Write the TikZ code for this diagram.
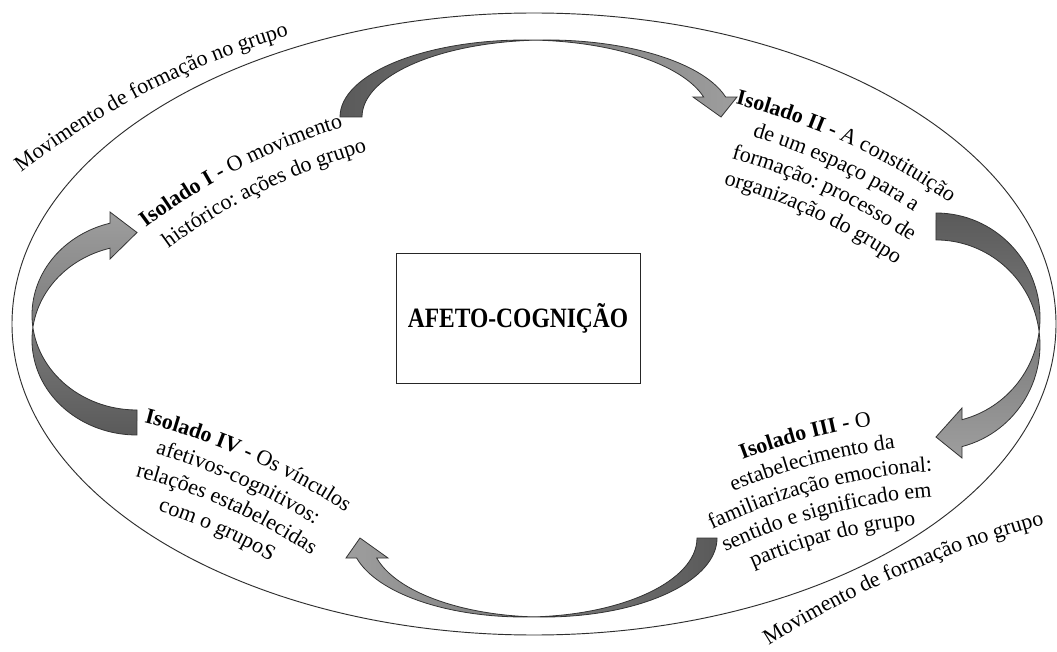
\documentclass[tikz,border=0pt]{standalone}
\usepackage{fontspec}
\usepackage{graphicx}
\setmainfont{Liberation Serif}
\usetikzlibrary{decorations.text}

\definecolor{bandDark}{HTML}{5A5A5A}
\definecolor{bandLight}{HTML}{9E9E9E}
\definecolor{rimGrey}{HTML}{2E2E2E}

\newcommand\bodysize{\fontsize{16.5}{19.5}\selectfont}

% one line of text set along a circular arc (centre x, centre y, radius, middle angle, text)
\newcommand\arcline[5]{%
  \path[decorate,decoration={text along path,text align=center,text={#5}}]
    ({#1+#3*cos(#4-45)},{#2+#3*sin(#4-45)})
    arc[start angle={#4-45}, end angle={#4+45}, radius=#3];%
}

\tikzset{
  rim/.style={draw=rimGrey, line width=0.7pt},
  band/.style={draw=black!80, line width=0.6pt},
  corebox/.style={draw=black!85, line width=0.7pt, inner sep=0pt,
    minimum width=183pt, minimum height=97.5pt,
    font=\fontsize{21}{25}\selectfont\bfseries}
}

\begin{document}
\begin{tikzpicture}[x=0.75pt,y=-0.75pt]
\useasboundingbox (0,0) rectangle (1057,652);
\fill[white] (0,0) rectangle (1057,652);

% outer ring
\draw[rim] (534,324) ellipse [x radius=522, y radius=311];

% curved block arrows (tail -> head)
\path[band, left color=bandDark, right color=bandLight]
  (340,117) arc[start angle=180, end angle=345, x radius=185, y radius=77]
  -- (693,97) -- (721,117) -- (737,97) -- (725.7,97.07)
  arc[start angle=345, end angle=180, x radius=185, y radius=77] -- cycle;

\path[band, top color=bandDark, bottom color=bandLight]
  (936,213) arc[start angle=270, end angle=435.5, x radius=104, y radius=105]
  -- (962,408) -- (936,437) -- (962,458) -- (962,446.6)
  arc[start angle=435.5, end angle=270, x radius=104, y radius=105] -- cycle;

\path[band, right color=bandDark, left color=bandLight]
  (697,538) arc[start angle=0, end angle=165.3, x radius=173, y radius=79]
  -- (346,558) -- (360,538) -- (388,558) -- (376.7,558.05)
  arc[start angle=165.3, end angle=0, x radius=173, y radius=79] -- cycle;

\path[band, bottom color=bandDark, top color=bandLight]
  (137,410) arc[start angle=90, end angle=255.1, x radius=105, y radius=95]
  -- (110,212) -- (137,232.5) -- (110,259) -- (110,248.2)
  arc[start angle=255.1, end angle=90, x radius=105, y radius=95] -- cycle;

% centre box
\node[corebox] (core) at (518,318) {\scalebox{0.84}[1]{AFETO-COGNIÇÃO}};

% ring labels
\arcline{512.8}{803.9}{800}{242.9}{|\bodysize|Movimento de formação no grupo}
\arcline{1305.1}{1489.8}{1000}{246.2}{|\bodysize|Movimento de formação no grupo}

% Isolado I
\arcline{535.1}{748.2}{650}{243}{|\bodysize\bfseries|Isolado I - |\bodysize|O movimento}
\arcline{535.1}{748.2}{620}{244}{|\bodysize|histórico: ações do grupo}

% Isolado II
\arcline{574.3}{733.6}{650}{294.8}{|\bodysize\bfseries|Isolado II - |\bodysize|A constituição}
\arcline{574.3}{733.6}{623}{294.8}{|\bodysize|de um espaço para a}
\arcline{574.3}{733.6}{596}{294.8}{|\bodysize|formação: processo de}
\arcline{574.3}{733.6}{569}{294.8}{|\bodysize|organização do grupo}

% Isolado III
\arcline{972.6}{1067.8}{650}{255.15}{|\bodysize\bfseries|Isolado III - |\bodysize|O}
\arcline{972.6}{1067.8}{624}{255.15}{|\bodysize|estabelecimento da}
\arcline{972.6}{1067.8}{598}{255.15}{|\bodysize|familiarização emocional:}
\arcline{972.6}{1067.8}{572}{255.15}{|\bodysize|sentido e significado em}
\arcline{972.6}{1067.8}{546}{255.15}{|\bodysize|participar do grupo}

% Isolado IV
\arcline{-15.9}{1052.8}{650}{294}{|\bodysize\bfseries|Isolado IV - |\bodysize|Os vínculos}
\arcline{-15.9}{1052.8}{623}{294}{|\bodysize|afetivos-cognitivos:}
\arcline{-15.9}{1052.8}{596}{294}{|\bodysize|relações estabelecidas}
\arcline{-15.9}{1052.8}{569}{294}{|\bodysize|com o grupoS}
\end{tikzpicture}
\end{document}
